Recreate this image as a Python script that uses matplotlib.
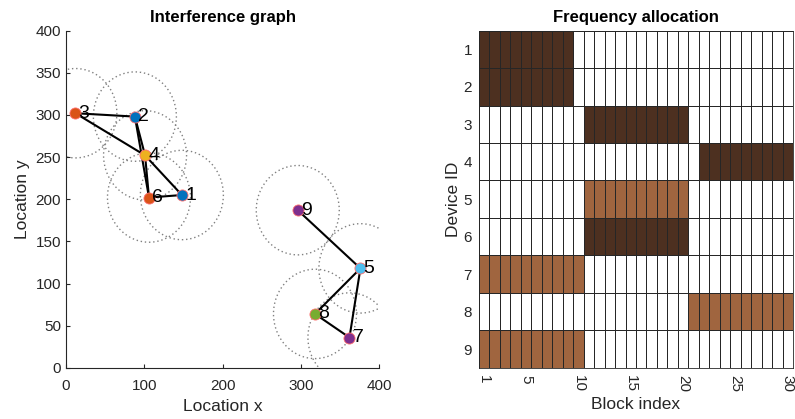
import matplotlib.pyplot as plt
import numpy as np
from matplotlib.colors import ListedColormap
from matplotlib.patches import Circle

plt.rcParams['font.family'] = ['Liberation Sans', 'DejaVu Sans']

# interference graph
node_ids = [1, 2, 3, 4, 5, 6, 7, 8, 9]
node_x = [148, 88, 12, 101, 376, 106, 362, 318, 296]
node_y = [205, 298, 302, 252, 118, 202, 36, 64, 187]
node_colors = ['#0072BD', '#0072BD', '#D95319', '#EDB120', '#4DBEEE',
               '#D95319', '#7E2F8E', '#77AC30', '#7E2F8E']
edges = [(3, 2), (3, 4), (2, 4), (2, 6), (4, 6), (4, 1), (6, 1),
         (9, 5), (5, 8), (5, 7), (8, 7)]
radius = 53

# frequency allocation
n_blocks = 30
alloc_start = [1, 1, 11, 22, 11, 11, 1, 21, 1]
alloc_end = [9, 9, 20, 30, 20, 20, 10, 30, 10]
alloc_level = [2, 2, 2, 2, 1, 2, 1, 1, 1]
block_ticks = [1, 5, 10, 15, 20, 25, 30]

txt = '#262626'
fig = plt.figure(figsize=(7.95, 4.19), dpi=100)

ax1 = fig.add_axes([0.083, 0.122, 0.394, 0.805])
for cx, cy in zip(node_x, node_y):
    ax1.add_patch(Circle((cx, cy), radius, fill=False, ls=(0, (1, 2)),
                         ec='#808080', lw=1))
for a, b in edges:
    ax1.plot([node_x[a - 1], node_x[b - 1]], [node_y[a - 1], node_y[b - 1]],
             color='black', lw=1.5, zorder=3)
for i, cx, cy, c in zip(node_ids, node_x, node_y, node_colors):
    ax1.plot(cx, cy, 'o', ms=8, mfc=c, mec='#FF6F6F', mew=0.6, zorder=4)
    ax1.text(cx + 4, cy, str(i), fontsize=14, va='center', ha='left',
             color='black', zorder=5)
ax1.set_xlim(0, 400)
ax1.set_ylim(0, 400)
ax1.spines[['top', 'right']].set_visible(False)
for s in ['left', 'bottom']:
    ax1.spines[s].set_color(txt)
ax1.tick_params(direction='in', labelsize=11, colors=txt, length=3)
ax1.tick_params(axis='x', pad=8)
ax1.set_xticks(np.arange(0, 401, 100))
ax1.set_yticks(np.arange(0, 401, 50))
ax1.set_xlabel('Location x', fontsize=12.5, color=txt, labelpad=4)
ax1.set_ylabel('Location y', fontsize=12.5, color=txt, labelpad=4)
ax1.set_title('Interference graph', fontsize=12, fontweight='bold', pad=6)

ax2 = fig.add_axes([0.6025, 0.122, 0.395, 0.805])
grid = np.zeros((len(node_ids), n_blocks))
for r, (s, e, lv) in enumerate(zip(alloc_start, alloc_end, alloc_level)):
    grid[r, s - 1:e] = lv
cmap = ListedColormap(['white', '#A0653F', '#4D3020'])
ax2.pcolormesh(np.arange(0.5, n_blocks + 1), np.arange(0.5, len(node_ids) + 1),
               grid, cmap=cmap, vmin=0, vmax=2, edgecolors='#262626', lw=0.6)
ax2.set_xlim(0.5, n_blocks + 0.5)
ax2.set_ylim(len(node_ids) + 0.5, 0.5)
ax2.set_xticks(block_ticks)
ax2.set_xticklabels([str(t) for t in block_ticks], rotation=-90)
ax2.set_yticks(node_ids)
ax2.tick_params(length=0, labelsize=11, colors=txt, pad=5)
for s in ax2.spines.values():
    s.set_color('#262626')
    s.set_linewidth(0.6)
ax2.set_xlabel('Block index', fontsize=12.5, color=txt, labelpad=4)
ax2.set_ylabel('Device ID', fontsize=12.5, color=txt, labelpad=2)
ax2.set_title('Frequency allocation', fontsize=12, fontweight='bold', pad=6)

plt.savefig('out.png', dpi=100)
